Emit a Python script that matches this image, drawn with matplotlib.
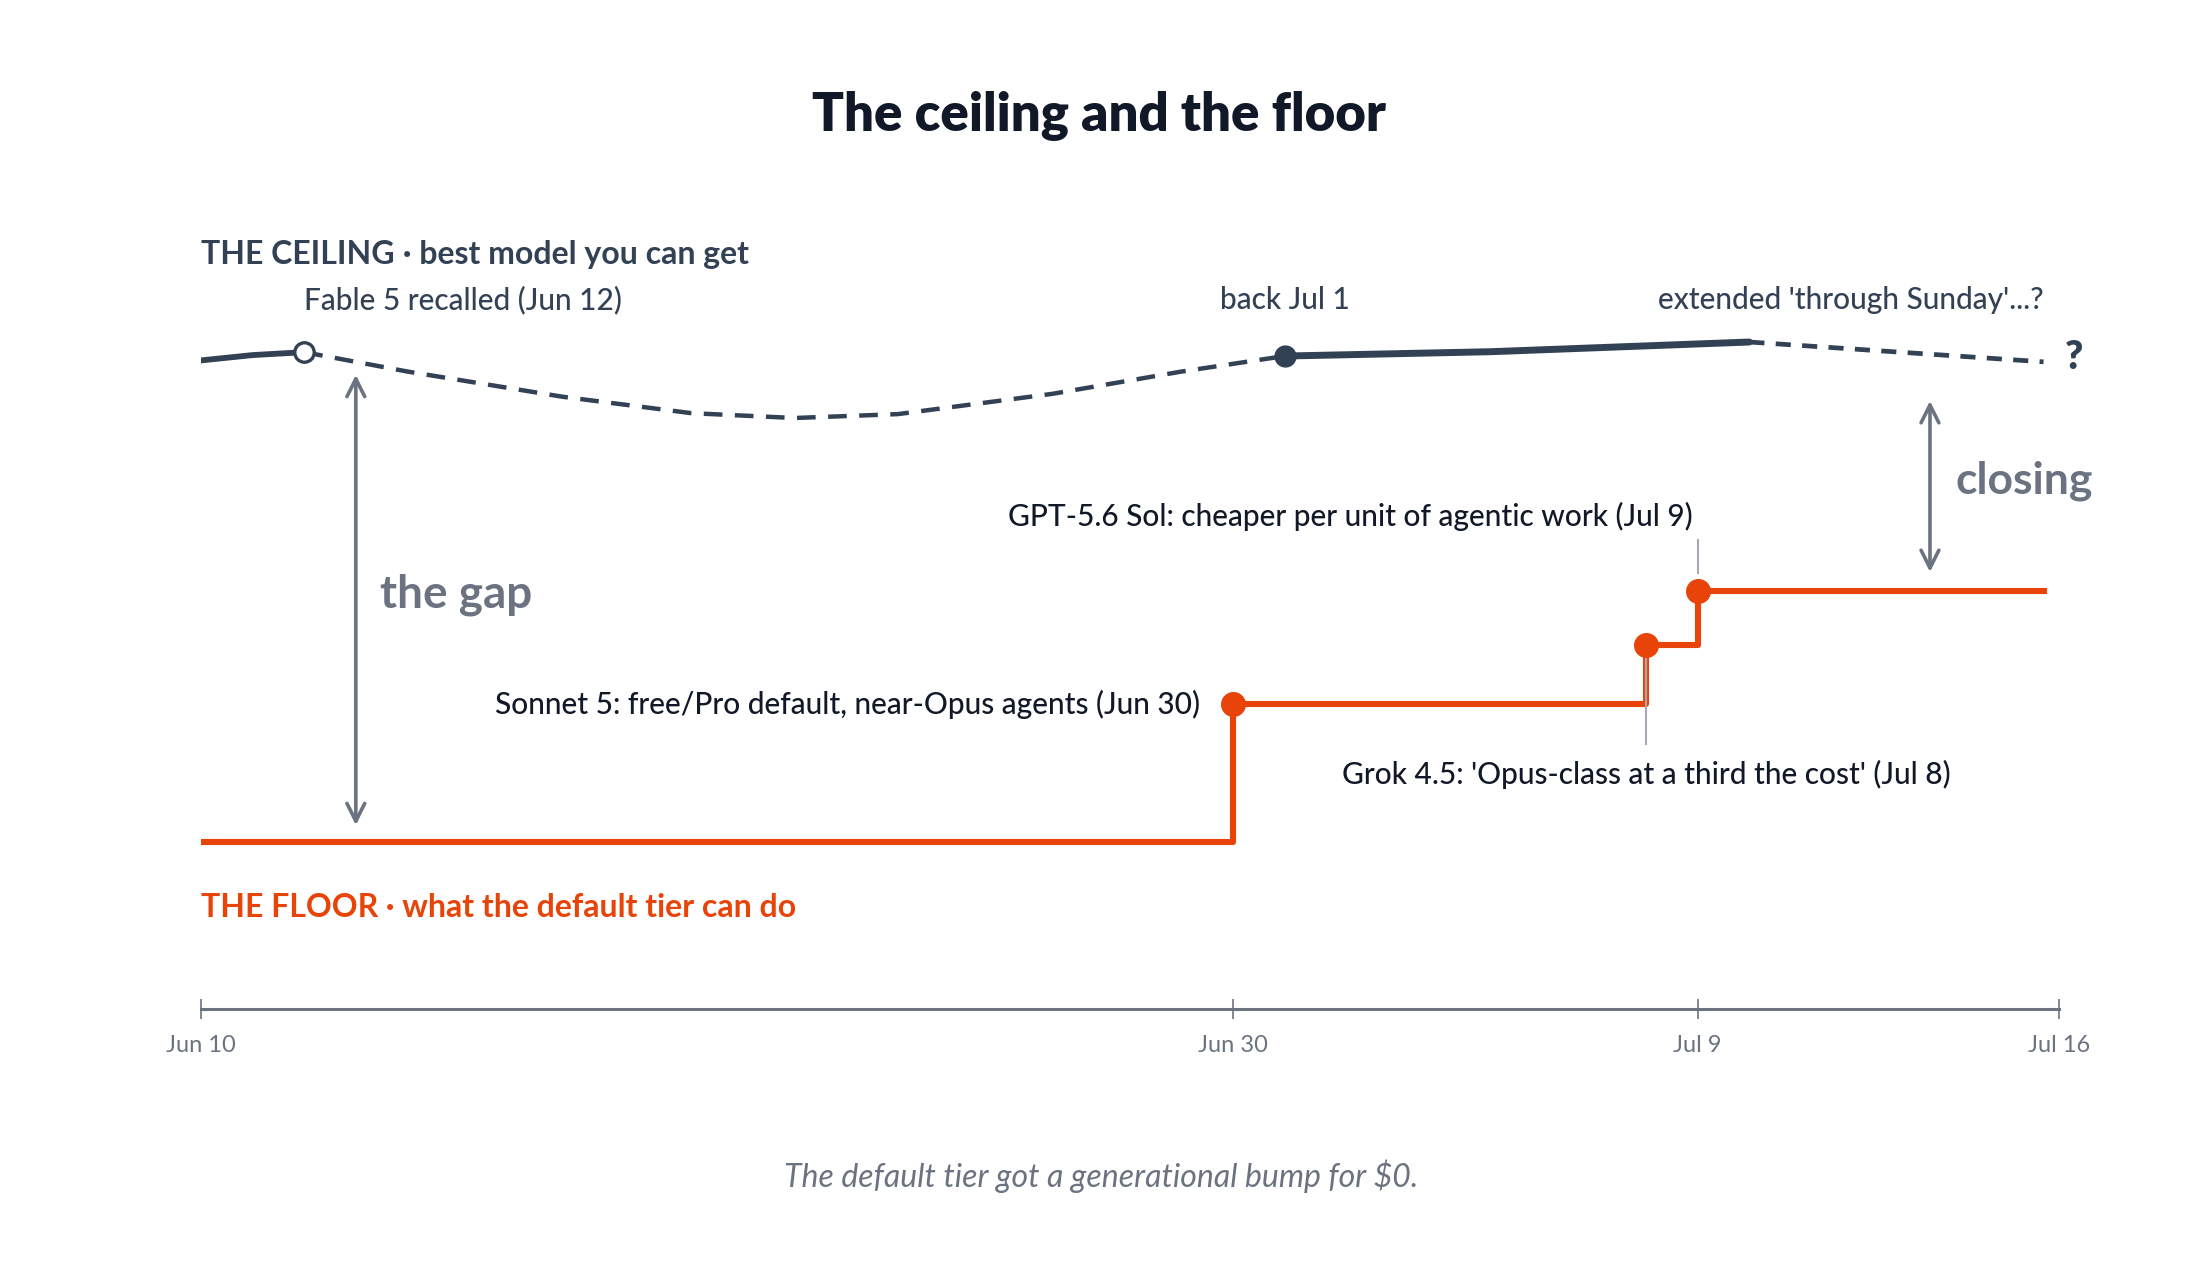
#!/usr/bin/env python

# The ceiling and the floor: best available model vs. what the default tier gets
# Annotated timeline, days counted from Jun 10

import matplotlib
import matplotlib.pyplot as plt

matplotlib.use("Agg")
plt.rcParams['font.family'] = ['Lato', 'DejaVu Sans']

# colours
DARK = '#334155'
INK = '#111827'
ORANGE = '#e8440a'
GREY = '#6b7280'
LEADER = '#a3a9b3'

# x = days since Jun 10, y = capability index (floor at start = 0, ceiling = 100)
tick_days = [0, 20, 29, 36]
tick_labels = ["Jun 10", "Jun 30", "Jul 9", "Jul 16"]

# ceiling: solid before the recall, dashed while recalled, solid once back, dashed after
ceiling_pre_days = [0, 1, 2]
ceiling_pre_vals = [99.5, 100.6, 101.2]
ceiling_out_days = [2, 4, 7, 9.5, 11.5, 13.5, 16.5, 19, 21]
ceiling_out_vals = [101.2, 97.2, 92.0, 88.6, 87.6, 88.4, 92.6, 97.2, 100.4]
ceiling_back_days = [21, 25, 30]
ceiling_back_vals = [100.4, 101.3, 103.3]
ceiling_ext_days = [30, 35.7]
ceiling_ext_vals = [103.3, 99.2]

# floor: step up at each release
floor_days = [0, 20, 28, 29, 35.7]
floor_vals = [0, 28.5, 40.7, 51.9, 51.9]
release_days = [20, 28, 29]
release_vals = [28.5, 40.7, 51.9]

LABEL_SIZE = 21.5

fig = plt.figure(figsize=(22, 12.76), dpi=100)
ax = fig.add_axes([201 / 2200, 1 - 1009 / 1276, 1858 / 2200, 909 / 1276])
ax.set_xlim(0, 36)
ax.set_ylim(-34.5, 153.3)

# time axis along the bottom only
for s in ['top', 'right', 'left']:
    ax.spines[s].set_visible(False)
ax.spines['bottom'].set_color(GREY)
ax.spines['bottom'].set_linewidth(2.2)
ax.set_yticks([])
ax.set_xticks(tick_days)
ax.set_xticklabels(tick_labels, fontsize=17, color=GREY)
ax.tick_params(axis='x', direction='inout', length=14, width=1.2, color=GREY, pad=12)

# --- ceiling ---
ax.plot(ceiling_pre_days, ceiling_pre_vals, color=DARK, lw=4.2, solid_capstyle='round')
ax.plot(ceiling_out_days, ceiling_out_vals, color=DARK, lw=3.2, dashes=(4.2, 2.8))
ax.plot(ceiling_back_days, ceiling_back_vals, color=DARK, lw=5, solid_capstyle='round')
ax.plot(ceiling_ext_days, ceiling_ext_vals, color=DARK, lw=3.4, dashes=(3.2, 2.4))
ax.plot(ceiling_pre_days[-1], ceiling_pre_vals[-1], 'o', ms=14, mfc='white', mec=DARK, mew=2.4)
ax.plot(ceiling_back_days[0], ceiling_back_vals[0], 'o', ms=15, color=DARK)
ax.text(36.3, 100, "?", fontsize=28, fontweight='heavy', color=DARK, ha='center', va='center')

# --- floor ---
ax.step(floor_days, floor_vals, where='post', color=ORANGE, lw=4.4)
ax.plot(release_days, release_vals, 'o', ms=17, color=ORANGE)

# leader lines for the two close-together releases
ax.plot([28, 28], [37.8, 20.2], color=LEADER, lw=1.5)
ax.plot([29, 29], [55.6, 62.4], color=LEADER, lw=1.5)

# --- gap arrows ---
ax.annotate('', xy=(3, 2.9), xytext=(3, 97.1),
            arrowprops=dict(arrowstyle='<->', color=GREY, lw=2.6, mutation_scale=32))
ax.annotate('', xy=(33.5, 55.2), xytext=(33.5, 91.7),
            arrowprops=dict(arrowstyle='<->', color=GREY, lw=2.6, mutation_scale=32))
ax.text(3.47, 51, "the gap", fontsize=33, fontweight='bold', color=GREY, va='center')
ax.text(34.0, 74.6, "closing", fontsize=32, fontweight='bold', color=GREY, va='center')

# --- labels ---
ceil_head = ax.text(0, 121.4, "THE CEILING", fontsize=23, fontweight='bold', color=DARK,
                    va='center')
floor_head = ax.text(0, -13.6, "THE FLOOR", fontsize=23, fontweight='bold', color=ORANGE,
                     va='center')
ax.text(2.0, 112.0, "Fable 5 recalled (Jun 12)", fontsize=LABEL_SIZE, color=DARK,
        fontweight='medium', va='center')
ax.text(21, 112.0, "back Jul 1", fontsize=LABEL_SIZE, color=DARK, fontweight='medium',
        ha='center', va='center')
ax.text(35.7, 112.0, "extended 'through Sunday'...?", fontsize=LABEL_SIZE, color=DARK,
        fontweight='medium', ha='right', va='center')
ax.text(19.35, 28.5, "Sonnet 5: free/Pro default, near-Opus agents (Jun 30)",
        fontsize=LABEL_SIZE, color=INK, fontweight='medium', ha='right', va='center')
ax.text(28.9, 67.3, "GPT-5.6 Sol: cheaper per unit of agentic work (Jul 9)",
        fontsize=LABEL_SIZE, color=INK, fontweight='medium', ha='right', va='center')
ax.text(28, 14, "Grok 4.5: 'Opus-class at a third the cost' (Jul 8)",
        fontsize=LABEL_SIZE, color=INK, fontweight='medium', ha='center', va='center')

# the sub-labels after the middle dot, placed right after the caps heading
fig.canvas.draw()
r = fig.canvas.get_renderer()
for head, rest, col in [(ceil_head, " · best model you can get", DARK),
                        (floor_head, " · what the default tier can do", ORANGE)]:
    bb = head.get_window_extent(renderer=r)
    x0 = ax.transData.inverted().transform((bb.x1, 0))[0]
    ax.text(x0, head.get_position()[1], rest, fontsize=23, fontweight='bold', color=col,
            va='center')

fig.text(1099 / 2200, 1 - 116 / 1276, "The ceiling and the floor", fontsize=38,
         fontweight='heavy', color=INK, ha='center', va='center')
fig.text(1101 / 2200, 1 - 1176 / 1276, "The default tier got a generational bump for $0.",
         fontsize=23, style='italic', color=GREY, ha='center', va='center')

plt.savefig('out.png', dpi=100, facecolor='white')
